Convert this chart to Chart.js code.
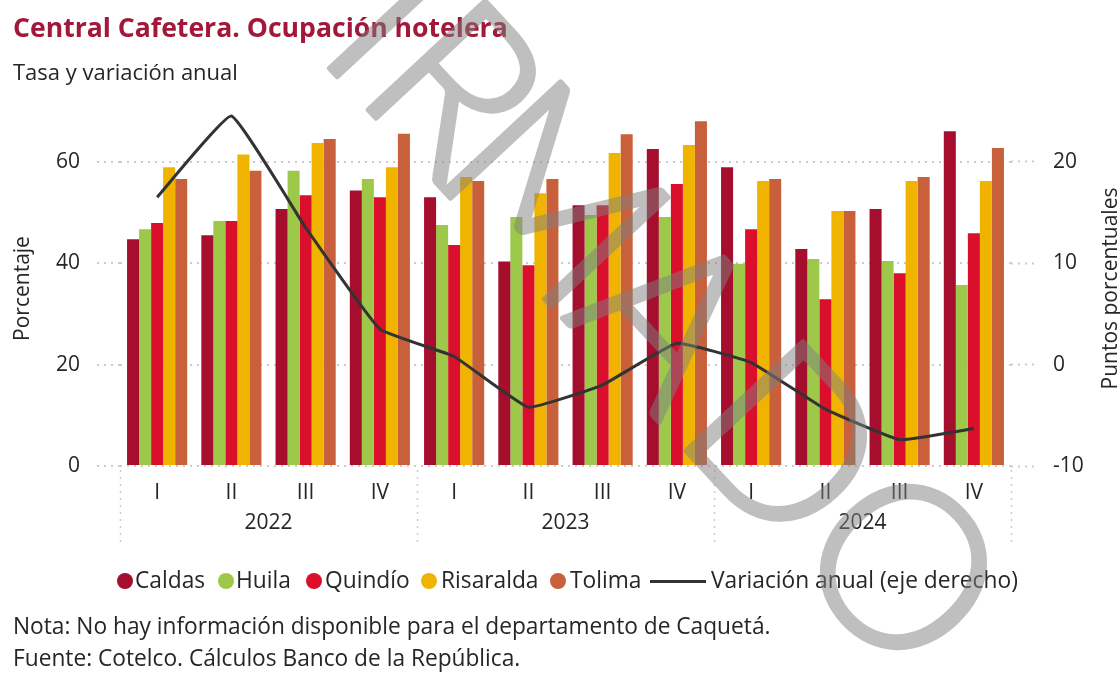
<!DOCTYPE html>
<html lang="es">
<head>
<meta charset="utf-8">
<title>Central Cafetera. Ocupación hotelera</title>
<script src="https://cdn.jsdelivr.net/npm/chart.js@4.4.1/dist/chart.umd.min.js"></script>
<style>
  html, body { margin: 0; padding: 0; background: #fff; }
  body { width: 1120px; height: 678px; position: relative; overflow: hidden;
         font-family: 'Open Sans', sans-serif; color: #262626; }
  #chart, #wm { position: absolute; left: 0; top: 0; }
  #wm { pointer-events: none; opacity: 0.5; }
  .txt { position: absolute; white-space: nowrap; line-height: 1; }
  #title { color: #a3173a; font-weight: 700; }
  .dot { position: absolute; width: 16px; height: 16px; border-radius: 50%; }
  .dash { position: absolute; height: 3px; background: #333; }
</style>
</head>
<body>
<canvas id="chart" width="1120" height="678"></canvas>
<div id="title" class="txt">Central Cafetera. Ocupación hotelera</div>
<div id="subtitle" class="txt">Tasa y variación anual</div>
<div id="legend"></div>
<div id="nota" class="txt">Nota: No hay información disponible para el departamento de Caquetá.</div>
<div id="fuente" class="txt">Fuente: Cotelco. Cálculos Banco de la República.</div>
<canvas id="wm" width="1120" height="678"></canvas>

<script>
(function () {
  'use strict';

  // ---- data ----
  var QUARTERS = ['I', 'II', 'III', 'IV', 'I', 'II', 'III', 'IV', 'I', 'II', 'III', 'IV'];
  var YEARS = ['2022', '2023', '2024'];

  var CALDAS    = [44.7, 45.5, 50.7, 54.3, 53.0, 40.3, 51.4, 62.5, 58.9, 42.8, 50.7, 66.0];
  var HUILA     = [46.7, 48.3, 58.2, 56.6, 47.5, 49.1, 49.5, 49.1, 39.9, 40.8, 40.4, 35.7];
  var QUINDIO   = [47.9, 48.3, 53.4, 53.0, 43.6, 39.6, 51.4, 55.6, 46.7, 32.9, 38.0, 45.9];
  var RISARALDA = [58.9, 61.4, 63.7, 58.9, 57.0, 53.8, 61.7, 63.3, 56.2, 50.3, 56.2, 56.2];
  var TOLIMA    = [56.6, 58.2, 64.5, 65.5, 56.2, 56.6, 65.4, 68.0, 56.6, 50.3, 57.0, 62.7];
  var VARIACION = [16.5, 24.5, 13.5, 3.5, 0.8, -4.2, -2.0, 2.1, 0.2, -4.4, -7.4, -6.3];

  var LEFT_TICKS = [0, 20, 40, 60];
  var RIGHT_TICKS = [-10, 0, 10, 20];

  var COLORS = {
    caldas: '#a50f2d',
    huila: '#9dc84a',
    quindio: '#d90f2b',
    risaralda: '#f0b400',
    tolima: '#c8603c',
    line: '#333333',
    grid: '#cccccc',
    text: '#262626'
  };

  var FONT = "'Open Sans', sans-serif";
  var $ = function (sel) { return document.querySelector(sel); };

  // ---- html text helpers ----
  function fitText(el, width) {
    el.style.fontSize = '100px';
    var w = el.getBoundingClientRect().width;
    var size = 100 * width / w;
    el.style.fontSize = size + 'px';
    return size;
  }

  function placeText(el, x, baseline) {
    el.style.left = x + 'px';
    el.style.top = '0px';
    var probe = document.createElement('span');
    probe.style.cssText = 'display:inline-block;width:0;height:0;vertical-align:baseline';
    el.appendChild(probe);
    var off = probe.getBoundingClientRect().bottom - el.getBoundingClientRect().top;
    el.removeChild(probe);
    el.style.top = (baseline - off) + 'px';
  }

  function buildText() {
    fitText($('#title'), 495);
    placeText($('#title'), 13, 37);
    fitText($('#subtitle'), 225);
    placeText($('#subtitle'), 13, 80);

    var noteSize = fitText($('#nota'), 758);
    $('#fuente').style.fontSize = noteSize + 'px';
    placeText($('#nota'), 13, 634);
    placeText($('#fuente'), 13, 666);

    var items = [
      { label: 'Caldas', color: COLORS.caldas, dot: 125, text: 135 },
      { label: 'Huila', color: COLORS.huila, dot: 226, text: 236 },
      { label: 'Quindío', color: COLORS.quindio, dot: 314, text: 325 },
      { label: 'Risaralda', color: COLORS.risaralda, dot: 429, text: 441 },
      { label: 'Tolima', color: COLORS.tolima, dot: 558, text: 570 },
      { label: 'Variación anual (eje derecho)', line: true, dash: [650, 706], text: 711 }
    ];
    var legend = $('#legend');
    var last = document.createElement('div');
    last.className = 'txt';
    last.textContent = items[5].label;
    legend.appendChild(last);
    var legSize = fitText(last, 307);

    items.forEach(function (it) {
      var t = it.line ? last : document.createElement('div');
      if (!it.line) {
        t.className = 'txt';
        t.textContent = it.label;
        t.style.fontSize = legSize + 'px';
        legend.appendChild(t);
        var d = document.createElement('div');
        d.className = 'dot';
        d.style.background = it.color;
        d.style.left = (it.dot - 8) + 'px';
        d.style.top = (581 - 8) + 'px';
        legend.appendChild(d);
      } else {
        var ln = document.createElement('div');
        ln.className = 'dash';
        ln.style.left = it.dash[0] + 'px';
        ln.style.width = (it.dash[1] - it.dash[0]) + 'px';
        ln.style.top = (581 - 1.5) + 'px';
        legend.appendChild(ln);
      }
      placeText(t, it.text, 588);
    });
  }

  // ---- years, separators, axis titles ----
  var extras = {
    id: 'extras',
    afterDraw: function (chart) {
      var ctx = chart.ctx;
      var x = chart.scales.x;
      var area = chart.chartArea;
      var step = x.getPixelForValue(1) - x.getPixelForValue(0);
      var per = QUARTERS.length / YEARS.length;

      ctx.save();
      ctx.fillStyle = COLORS.text;
      ctx.font = '21px ' + FONT;
      ctx.textAlign = 'center';
      ctx.textBaseline = 'alphabetic';
      YEARS.forEach(function (yr, i) {
        var a = x.getPixelForValue(i * per) - step / 2;
        var b = x.getPixelForValue(i * per + per - 1) + step / 2;
        ctx.fillText(yr, (a + b) / 2, 529);
      });

      ctx.strokeStyle = COLORS.grid;
      ctx.lineWidth = 1.5;
      ctx.setLineDash([2, 5]);
      for (var k = 0; k <= YEARS.length; k++) {
        var px = k < YEARS.length
          ? x.getPixelForValue(k * per) - step / 2
          : x.getPixelForValue(QUARTERS.length - 1) + step / 2;
        ctx.beginPath();
        ctx.moveTo(Math.round(px) + 0.5, area.bottom + 4);
        ctx.lineTo(Math.round(px) + 0.5, 546);
        ctx.stroke();
      }
      ctx.setLineDash([]);

      var midY = (area.top + area.bottom) / 2;
      [['Porcentaje', 29], ['Puntos porcentuales', 1117]].forEach(function (t) {
        ctx.save();
        ctx.translate(t[1], midY);
        ctx.rotate(-Math.PI / 2);
        ctx.fillText(t[0], 0, 0);
        ctx.restore();
      });
      ctx.restore();
    }
  };

  function barSet(label, data, color) {
    return {
      type: 'bar', label: label, data: data, backgroundColor: color,
      borderWidth: 0, yAxisID: 'y', order: 1,
      categoryPercentage: 0.81, barPercentage: 1.0
    };
  }

  function renderChart() {
    var tickFont = { family: FONT, size: 21 };
    new Chart($('#chart').getContext('2d'), {
      type: 'bar',
      data: {
        labels: QUARTERS,
        datasets: [
          {
            type: 'line', label: 'Variación anual (eje derecho)', data: VARIACION,
            borderColor: COLORS.line, borderWidth: 3, pointRadius: 0,
            tension: 0.1, fill: false, yAxisID: 'y1', order: 0
          },
          barSet('Caldas', CALDAS, COLORS.caldas),
          barSet('Huila', HUILA, COLORS.huila),
          barSet('Quindío', QUINDIO, COLORS.quindio),
          barSet('Risaralda', RISARALDA, COLORS.risaralda),
          barSet('Tolima', TOLIMA, COLORS.tolima)
        ]
      },
      options: {
        responsive: false,
        animation: false,
        devicePixelRatio: 1,
        layout: { padding: { top: 111, left: 0, right: 0, bottom: 0 } },
        plugins: { legend: { display: false }, tooltip: { enabled: false } },
        scales: {
          x: {
            offset: true,
            grid: { display: false },
            border: { display: false },
            ticks: { color: COLORS.text, font: tickFont, padding: 6, maxRotation: 0, autoSkip: false },
            afterFit: function (s) { s.height = 678 - 466; }
          },
          y: {
            position: 'left', min: 0, max: 70,
            afterBuildTicks: function (s) { s.ticks = LEFT_TICKS.map(function (v) { return { value: v }; }); },
            grid: { color: COLORS.grid, lineWidth: 2, tickLength: 23, tickColor: COLORS.grid,
                    tickWidth: 2, tickBorderDash: [2, 5] },
            border: { display: false, dash: [2, 5] },
            ticks: { color: COLORS.text, font: tickFont, padding: 17 },
            afterFit: function (s) { s.width = 120; }
          },
          y1: {
            position: 'right', min: -10, max: 25,
            afterBuildTicks: function (s) { s.ticks = RIGHT_TICKS.map(function (v) { return { value: v }; }); },
            grid: { drawOnChartArea: false, tickLength: 25, tickColor: COLORS.grid,
                    tickWidth: 2, tickBorderDash: [2, 5] },
            border: { display: false },
            ticks: { color: COLORS.text, font: tickFont, padding: 17 },
            afterFit: function (s) { s.width = 109; }
          }
        }
      },
      plugins: [extras]
    });
  }

  // ---- "FIRMADO" stamp across the page (canvas is 50% opaque via css) ----
  function drawWatermark() {
    var ctx = $('#wm').getContext('2d');
    var ang = Math.atan2(0.73, 0.68);
    var letters = [['F', 135], ['I', 252], ['R', 309], ['M', 420], ['A', 615], ['D', 776], ['O', 944]];
    ctx.fillStyle = '#808080';
    ctx.strokeStyle = '#808080';
    ctx.lineWidth = 5;
    ctx.lineJoin = 'round';
    ctx.font = '300 226px Lato, ' + FONT;
    ctx.textBaseline = 'alphabetic';
    letters.forEach(function (l) {
      var s = l[1];
      ctx.save();
      ctx.translate(0.68 * s + 142, 0.73 * s - 133);
      ctx.rotate(ang);
      ctx.fillText(l[0], 0, 0);
      ctx.strokeText(l[0], 0, 0);
      ctx.restore();
    });
  }

  function init() {
    renderChart();
    buildText();
    drawWatermark();
  }

  if (document.readyState === 'loading') {
    document.addEventListener('DOMContentLoaded', init);
  } else {
    init();
  }
})();
</script>
</body>
</html>
